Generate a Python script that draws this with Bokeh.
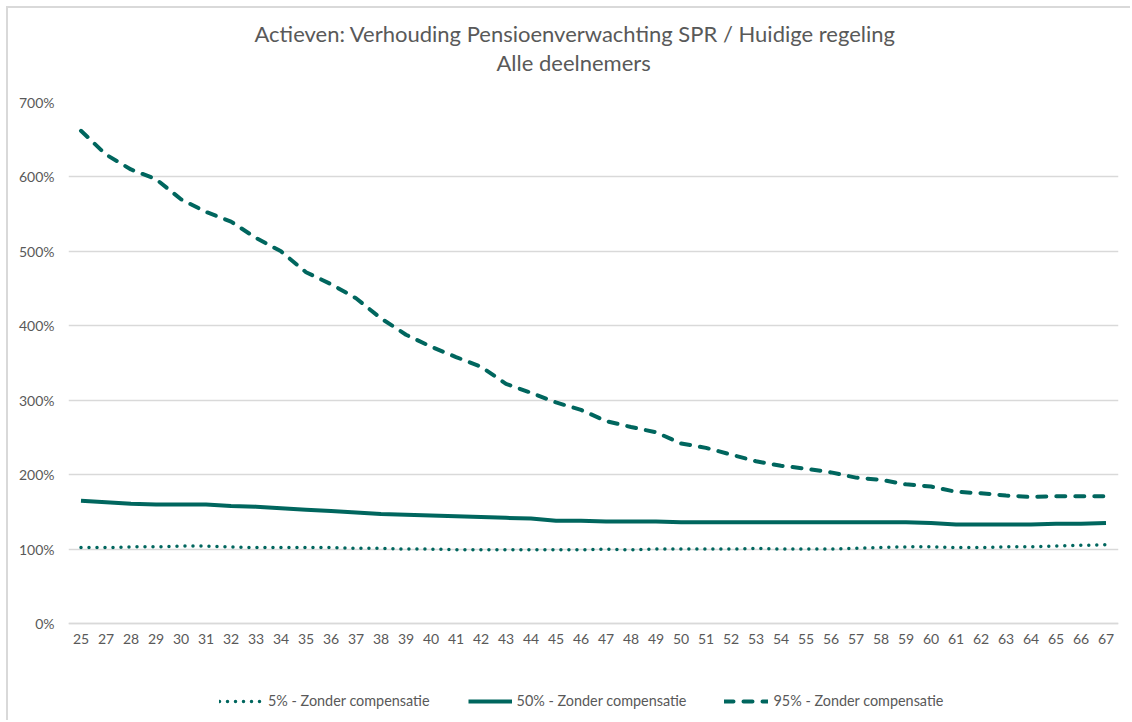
from bokeh.plotting import figure
from bokeh.models import (FactorRange, Range1d, Title, Legend, LegendItem,
                          PrintfTickFormatter, FixedTicker, ColumnDataSource)
from bokeh.embed import file_html
from bokeh.resources import INLINE

ages = ["25", "27", "28", "29", "30", "31", "32", "33", "34", "35", "36", "37",
        "38", "39", "40", "41", "42", "43", "44", "45", "46", "47", "48", "49",
        "50", "51", "52", "53", "54", "55", "56", "57", "58", "59", "60", "61",
        "62", "63", "64", "65", "66", "67"]

p5 = [102, 102, 103, 103, 104, 104, 103, 102, 102, 102, 102, 101, 101, 100,
      100, 99, 99, 99, 99, 99, 99, 100, 99, 100, 100, 100, 100, 101, 100, 100,
      100, 101, 102, 103, 103, 102, 102, 103, 103, 104, 105, 106]

p50 = [165, 163, 161, 160, 160, 160, 158, 157, 155, 153, 151, 149, 147, 146,
       145, 144, 143, 142, 141, 138, 138, 137, 137, 137, 136, 136, 136, 136,
       136, 136, 136, 136, 136, 136, 135, 133, 133, 133, 133, 134, 134, 135]

p95 = [662, 630, 610, 597, 570, 553, 540, 518, 500, 472, 456, 437, 410, 388,
       372, 358, 345, 322, 310, 297, 287, 272, 264, 257, 242, 236, 227, 218,
       212, 208, 203, 196, 193, 187, 184, 177, 175, 172, 170, 171, 171, 171]

y_ticks = [0, 100, 200, 300, 400, 500, 600, 700]

labels = ["5% - Zonder compensatie", "50% - Zonder compensatie",
          "95% - Zonder compensatie"]
title_main = "Actieven: Verhouding Pensioenverwachting SPR / Huidige regeling"
title_sub = "Alle deelnemers"

FONT = "Lato"
TEAL = "#00665E"
GRAY = "#595959"
GRID = "#D9D9D9"

src = ColumnDataSource(dict(age=ages, p5=p5, p50=p50, p95=p95))

# frame spans 94..714 px of the figure; 0%..700% occupy 94..615 px,
# the space below 0% holds the category labels and the legend
p = figure(x_range=FactorRange(factors=ages), y_range=Range1d(-133.0, 700),
           width=1124, height=714, output_backend="svg", toolbar_location=None,
           min_border_left=60, min_border_right=14, min_border_top=94,
           min_border_bottom=0)
p.styles = {"margin-left": "8px", "margin-top": "8px",
            "box-shadow": "-2px -2px 0px 0px #D9D9D9"}
p.outline_line_color = None
p.background_fill_color = "white"
p.border_fill_color = "white"

p.title.text = title_main
p.title.align = "left"
p.title.offset = 186
p.title.text_font = FONT
p.title.text_font_size = "22px"
p.title.text_font_style = "normal"
p.title.text_color = GRAY
p.title.standoff = -53

t2 = Title(text=title_sub, align="left", offset=428, text_font=FONT,
           text_font_size="22px", text_font_style="normal", text_color=GRAY,
           standoff=53)
p.add_layout(t2, "above")

r5 = p.line("age", "p5", source=src, line_color=TEAL, line_width=3.5,
            line_dash="0 8", line_cap="round")
r50 = p.line("age", "p50", source=src, line_color=TEAL, line_width=4)
r95 = p.line("age", "p95", source=src, line_color=TEAL, line_width=4,
             line_dash="9 10", line_cap="round")

p.xgrid.visible = False
p.ygrid.grid_line_color = GRID
p.ygrid.grid_line_width = 1.5
p.ygrid.ticker = FixedTicker(ticks=y_ticks)

p.yaxis.ticker = FixedTicker(ticks=y_ticks)
p.yaxis.formatter = PrintfTickFormatter(format="%d%%")
p.yaxis.axis_line_color = None
p.yaxis.major_tick_line_color = None
p.yaxis.minor_tick_line_color = None
p.yaxis.major_label_text_font = FONT
p.yaxis.major_label_text_font_size = "14px"
p.yaxis.major_label_text_color = GRAY
p.yaxis.major_label_standoff = 8

p.xaxis.fixed_location = 0
p.xaxis.axis_line_color = GRID
p.xaxis.axis_line_width = 1.5
p.xaxis.major_tick_line_color = None
p.xaxis.minor_tick_line_color = None
p.xaxis.major_label_text_font = FONT
p.xaxis.major_label_text_font_size = "14px"
p.xaxis.major_label_text_color = GRAY
p.xaxis.major_label_standoff = 4

legend = Legend(items=[LegendItem(label=labels[0], renderers=[r5]),
                       LegendItem(label=labels[1], renderers=[r50]),
                       LegendItem(label=labels[2], renderers=[r95])],
                orientation="horizontal", location=(151, 13),
                border_line_color=None, background_fill_alpha=0,
                glyph_width=44, glyph_height=16, label_standoff=5,
                spacing=38, padding=0, margin=0,
                label_text_font=FONT, label_text_font_size="14.4px",
                label_text_color=GRAY)
p.add_layout(legend, "center")

open("out.html", "w").write(file_html(p, INLINE))
